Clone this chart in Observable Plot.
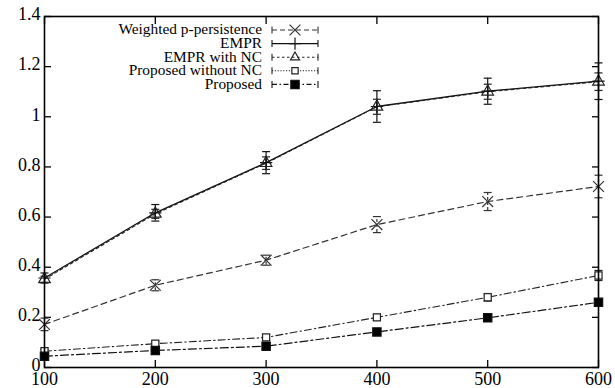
<!DOCTYPE html>
<html><head><meta charset="utf-8">
<script src="https://cdn.jsdelivr.net/npm/d3@7"></script>
<script src="https://cdn.jsdelivr.net/npm/@observablehq/plot@0.6"></script>
<style>html,body{margin:0;padding:0;background:#fff}svg{display:block}
svg text{font-family:"Liberation Serif","Times New Roman",serif}</style>
</head><body><div id="chart"></div>
<script>
// ---- data ----
const xValues = [100, 200, 300, 400, 500, 600];
const seriesNames = ["Weighted p-persistence", "EMPR", "EMPR with NC", "Proposed without NC", "Proposed"];
const weightedP = [0.172, 0.328, 0.428, 0.570, 0.662, 0.722];
const weightedPErr = [0.025, 0.022, 0.020, 0.032, 0.036, 0.045];
const empr = [0.357, 0.617, 0.817, 1.041, 1.102, 1.142];
const emprErr = [0.020, 0.033, 0.044, 0.063, 0.052, 0.073];
const emprNC = [0.352, 0.613, 0.815, 1.040, 1.100, 1.140];
const emprNCErr = [0.012, 0.018, 0.025, 0.030, 0.030, 0.035];
const proposedNoNC = [0.065, 0.095, 0.120, 0.200, 0.280, 0.367];
const proposedNoNCErr = [0.008, 0.008, 0.010, 0.012, 0.015, 0.020];
const proposed = [0.045, 0.068, 0.085, 0.142, 0.198, 0.260];
const proposedErr = [0.004, 0.004, 0.005, 0.006, 0.006, 0.008];
const xTicks = [100, 200, 300, 400, 500, 600];
const yTicks = [0, 0.2, 0.4, 0.6, 0.8, 1.0, 1.2, 1.4];
const yTickLabels = ["0", "0.2", "0.4", "0.6", "0.8", "1", "1.2", "1.4"];

const valuesBySeries = [weightedP, empr, emprNC, proposedNoNC, proposed];
const errBySeries = [weightedPErr, emprErr, emprNCErr, proposedNoNCErr, proposedErr];

// ---- styles ----
const styles = [
  {dash: "6,4", legendDash: "5,3", symbol: "times", d3sym: d3.symbolTimes, r: 5, fill: "none", stroke: "#333", width: 1.2},
  {dash: null, legendDash: null, symbol: "plus", d3sym: d3.symbolPlus, r: 4, fill: "none", stroke: "#111", width: 1.3},
  {dash: "3,3", legendDash: "2.5,2.5", symbol: "triangle", d3sym: d3.symbolTriangle2, r: 4.3, fill: "none", stroke: "#222", width: 1.1},
  {dash: "7,3,1.5,3", legendDash: "1.2,1.6", symbol: "square", d3sym: d3.symbolSquare2, r: 4, fill: "white", stroke: "#222", width: 1.1},
  {dash: "8,3,2,3", legendDash: "5,2.5,1.5,2.5", symbol: "square", d3sym: d3.symbolSquare, r: 4.7, fill: "black", stroke: "#111", width: 1.2}
];

const rows = [];
seriesNames.forEach((s, si) => xValues.forEach((x, i) => rows.push({series: s, si, x, y: valuesBySeries[si][i], err: errBySeries[si][i]})));

const hline = {draw(ctx, size) { const r = Math.sqrt(size / Math.PI); ctx.moveTo(-r, 0); ctx.lineTo(r, 0); }};

const marks = [];
seriesNames.forEach((s, si) => {
  const st = styles[si];
  const d = rows.filter(r => r.si === si);
  marks.push(Plot.line(d, {x: "x", y: "y", stroke: st.stroke, strokeWidth: st.width, strokeDasharray: st.dash}));
});
seriesNames.forEach((s, si) => {
  const st = styles[si];
  const d = rows.filter(r => r.si === si);
  const ed = si === 0 ? "3,2" : null;
  marks.push(Plot.ruleX(d, {x: "x", y1: r => r.y - r.err, y2: r => r.y + r.err, stroke: st.stroke, strokeWidth: 1.2, strokeDasharray: ed}));
  marks.push(Plot.dot(d, {x: "x", y: r => r.y - r.err, symbol: hline, r: 4, stroke: st.stroke, strokeWidth: 1.2}));
  marks.push(Plot.dot(d, {x: "x", y: r => r.y + r.err, symbol: hline, r: 4, stroke: st.stroke, strokeWidth: 1.2}));
});
seriesNames.forEach((s, si) => {
  const st = styles[si];
  const d = rows.filter(r => r.si === si);
  marks.push(Plot.dot(d, {x: "x", y: "y", symbol: st.symbol, r: st.r, stroke: st.stroke, fill: st.fill, strokeWidth: 1.2}));
});

const blank = () => "";
const chart = Plot.plot({
  width: 615, height: 388,
  marginLeft: 44, marginRight: 17, marginTop: 16, marginBottom: 21,
  style: {fontFamily: "Liberation Serif, Times New Roman, serif", fontSize: "18px", color: "black", background: "white"},
  x: {domain: [100, 600], label: null},
  y: {domain: [0, 1.4], label: null},
  marks: [
    Plot.axisX({anchor: "bottom", ticks: xTicks, tickSize: -7, tickFormat: blank, strokeWidth: 1.3}),
    Plot.axisX({anchor: "top", ticks: xTicks, tickSize: -7, tickFormat: blank, strokeWidth: 1.3}),
    Plot.axisY({anchor: "left", ticks: yTicks, tickSize: -7, tickFormat: blank, strokeWidth: 1.3}),
    Plot.axisY({anchor: "right", ticks: yTicks, tickSize: -7, tickFormat: blank, strokeWidth: 1.3}),
    Plot.axisX({anchor: "bottom", ticks: xTicks, tickSize: 0, tickPadding: 5, fontSize: 18, tickFormat: d => String(d)}),
    Plot.axisY({anchor: "left", ticks: yTicks, tickSize: 0, tickPadding: 4, fontSize: 18, dy: -2, tickFormat: d => yTickLabels[yTicks.indexOf(d)]}),
    ...marks,
    Plot.frame({stroke: "black", strokeWidth: 1.6})
  ]
});
document.getElementById("chart").appendChild(chart);

// ---- legend ----
const svg = d3.select(chart);
const g = svg.append("g").attr("font-size", 14).attr("fill", "black");
seriesNames.forEach((name, i) => {
  const st = styles[i];
  const y = 30 + i * 13.6;
  g.append("text").attr("transform", `translate(262,${y}) scale(1.1,1)`).attr("dy", "0.32em").attr("text-anchor", "end").text(name);
  g.append("line").attr("x1", 272).attr("x2", 318).attr("y1", y).attr("y2", y)
    .attr("stroke", st.stroke).attr("stroke-width", 1.1).attr("stroke-dasharray", st.legendDash);
  [272, 318].forEach(cx => g.append("line").attr("x1", cx).attr("x2", cx).attr("y1", y - 3.5).attr("y2", y + 3.5)
    .attr("stroke", st.stroke).attr("stroke-width", 1.1));
  g.append("path").attr("transform", `translate(295,${y})`)
    .attr("d", d3.symbol(st.d3sym, Math.PI * st.r * st.r)())
    .attr("fill", st.fill).attr("stroke", st.stroke).attr("stroke-width", 1.2);
});
</script></body></html>
